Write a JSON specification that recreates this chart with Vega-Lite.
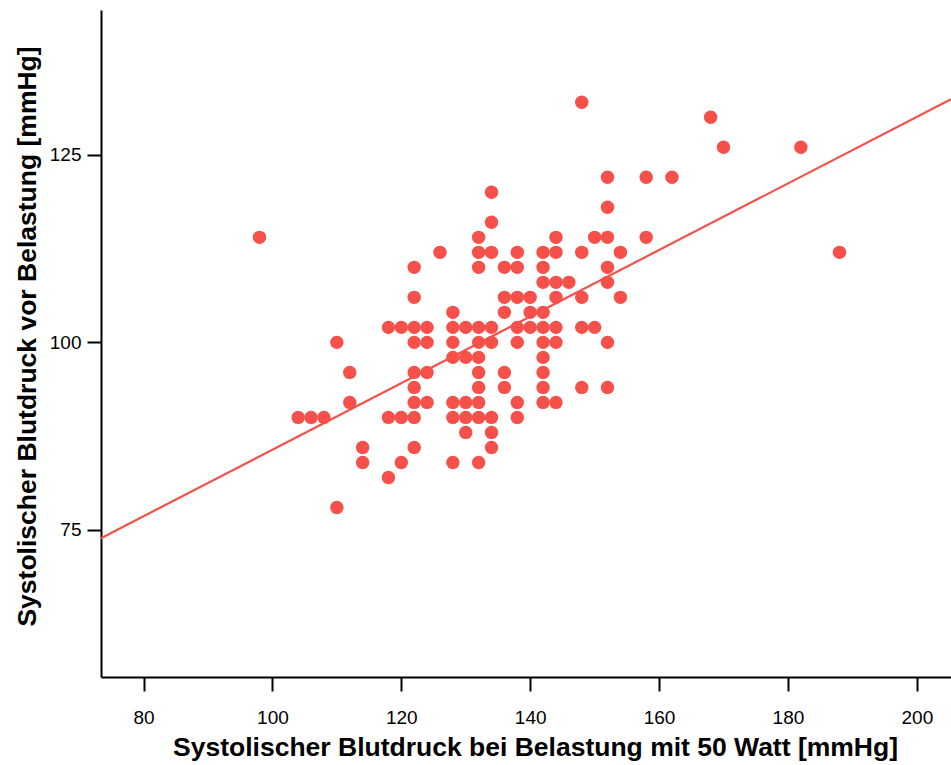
{
  "$schema": "https://vega.github.io/schema/vega-lite/v6.json",
  "width": 850,
  "height": 667,
  "autosize": "none",
  "padding": {"left": 101, "top": 10, "right": 0, "bottom": 88},
  "background": "white",
  "config": {
    "view": {"stroke": null},
    "font": "Liberation Sans",
    "axis": {"grid": false, "domainColor": "black", "domainWidth": 2, "tickColor": "black", "tickWidth": 2, "labelColor": "black", "titleColor": "black", "labelFont": "Liberation Sans", "titleFont": "Liberation Sans"}
  },
  "datasets": {
    "pts": [
      {"belastung": 98, "vor": 114},
      {"belastung": 104, "vor": 90},
      {"belastung": 106, "vor": 90},
      {"belastung": 108, "vor": 90},
      {"belastung": 110, "vor": 100},
      {"belastung": 110, "vor": 78},
      {"belastung": 112, "vor": 96},
      {"belastung": 112, "vor": 92},
      {"belastung": 114, "vor": 86},
      {"belastung": 114, "vor": 84},
      {"belastung": 118, "vor": 102},
      {"belastung": 118, "vor": 90},
      {"belastung": 118, "vor": 82},
      {"belastung": 120, "vor": 102},
      {"belastung": 120, "vor": 90},
      {"belastung": 120, "vor": 84},
      {"belastung": 122, "vor": 110},
      {"belastung": 122, "vor": 106},
      {"belastung": 122, "vor": 102},
      {"belastung": 122, "vor": 100},
      {"belastung": 122, "vor": 96},
      {"belastung": 122, "vor": 94},
      {"belastung": 122, "vor": 92},
      {"belastung": 122, "vor": 90},
      {"belastung": 122, "vor": 86},
      {"belastung": 124, "vor": 102},
      {"belastung": 124, "vor": 100},
      {"belastung": 124, "vor": 96},
      {"belastung": 124, "vor": 92},
      {"belastung": 126, "vor": 112},
      {"belastung": 128, "vor": 104},
      {"belastung": 128, "vor": 102},
      {"belastung": 128, "vor": 100},
      {"belastung": 128, "vor": 98},
      {"belastung": 128, "vor": 92},
      {"belastung": 128, "vor": 90},
      {"belastung": 128, "vor": 84},
      {"belastung": 130, "vor": 102},
      {"belastung": 130, "vor": 98},
      {"belastung": 130, "vor": 92},
      {"belastung": 130, "vor": 90},
      {"belastung": 130, "vor": 88},
      {"belastung": 132, "vor": 114},
      {"belastung": 132, "vor": 112},
      {"belastung": 132, "vor": 110},
      {"belastung": 132, "vor": 102},
      {"belastung": 132, "vor": 100},
      {"belastung": 132, "vor": 98},
      {"belastung": 132, "vor": 96},
      {"belastung": 132, "vor": 94},
      {"belastung": 132, "vor": 92},
      {"belastung": 132, "vor": 90},
      {"belastung": 132, "vor": 84},
      {"belastung": 134, "vor": 120},
      {"belastung": 134, "vor": 116},
      {"belastung": 134, "vor": 112},
      {"belastung": 134, "vor": 102},
      {"belastung": 134, "vor": 100},
      {"belastung": 134, "vor": 90},
      {"belastung": 134, "vor": 88},
      {"belastung": 134, "vor": 86},
      {"belastung": 136, "vor": 110},
      {"belastung": 136, "vor": 106},
      {"belastung": 136, "vor": 104},
      {"belastung": 136, "vor": 96},
      {"belastung": 136, "vor": 94},
      {"belastung": 138, "vor": 112},
      {"belastung": 138, "vor": 110},
      {"belastung": 138, "vor": 106},
      {"belastung": 138, "vor": 102},
      {"belastung": 138, "vor": 100},
      {"belastung": 138, "vor": 92},
      {"belastung": 138, "vor": 90},
      {"belastung": 140, "vor": 106},
      {"belastung": 140, "vor": 104},
      {"belastung": 140, "vor": 102},
      {"belastung": 142, "vor": 112},
      {"belastung": 142, "vor": 110},
      {"belastung": 142, "vor": 108},
      {"belastung": 142, "vor": 104},
      {"belastung": 142, "vor": 102},
      {"belastung": 142, "vor": 100},
      {"belastung": 142, "vor": 98},
      {"belastung": 142, "vor": 96},
      {"belastung": 142, "vor": 94},
      {"belastung": 142, "vor": 92},
      {"belastung": 144, "vor": 114},
      {"belastung": 144, "vor": 112},
      {"belastung": 144, "vor": 108},
      {"belastung": 144, "vor": 106},
      {"belastung": 144, "vor": 102},
      {"belastung": 144, "vor": 100},
      {"belastung": 144, "vor": 92},
      {"belastung": 146, "vor": 108},
      {"belastung": 148, "vor": 132},
      {"belastung": 148, "vor": 112},
      {"belastung": 148, "vor": 106},
      {"belastung": 148, "vor": 102},
      {"belastung": 148, "vor": 94},
      {"belastung": 150, "vor": 114},
      {"belastung": 150, "vor": 102},
      {"belastung": 152, "vor": 122},
      {"belastung": 152, "vor": 118},
      {"belastung": 152, "vor": 114},
      {"belastung": 152, "vor": 110},
      {"belastung": 152, "vor": 108},
      {"belastung": 152, "vor": 100},
      {"belastung": 152, "vor": 94},
      {"belastung": 154, "vor": 112},
      {"belastung": 154, "vor": 106},
      {"belastung": 158, "vor": 122},
      {"belastung": 158, "vor": 114},
      {"belastung": 162, "vor": 122},
      {"belastung": 168, "vor": 130},
      {"belastung": 170, "vor": 126},
      {"belastung": 182, "vor": 126},
      {"belastung": 188, "vor": 112}
    ],
    "fit": [
      {"belastung": 73.4, "vor": 73.9},
      {"belastung": 205.3, "vor": 132.4}
    ]
  },
  "encoding": {
    "x": {
      "field": "belastung", "type": "quantitative",
      "scale": {"domain": [73.4, 205.3], "nice": false, "zero": false},
      "axis": {"values": [80, 100, 120, 140, 160, 180, 200], "title": "Systolischer Blutdruck bei Belastung mit 50 Watt [mmHg]", "tickSize": 14, "labelFontSize": 19, "labelPadding": 17, "titleFontSize": 26.5, "titleFontWeight": "bold", "titlePadding": 7, "titleX": 434}
    },
    "y": {
      "field": "vor", "type": "quantitative",
      "scale": {"domain": [55.4, 144.3], "nice": false, "zero": false},
      "axis": {"values": [75, 100, 125], "title": "Systolischer Blutdruck vor Belastung [mmHg]", "tickSize": 14, "labelFontSize": 19, "labelPadding": 6, "titleFontSize": 26.5, "titleFontWeight": "bold", "titlePadding": 8, "titleY": 326}
    }
  },
  "layer": [
    {
      "data": {"name": "pts"},
      "mark": {"type": "circle", "size": 180, "color": "#F5504A", "opacity": 1}
    },
    {
      "data": {"name": "fit"},
      "mark": {"type": "line", "color": "#F5504A", "strokeWidth": 2.2, "clip": true}
    }
  ]
}
